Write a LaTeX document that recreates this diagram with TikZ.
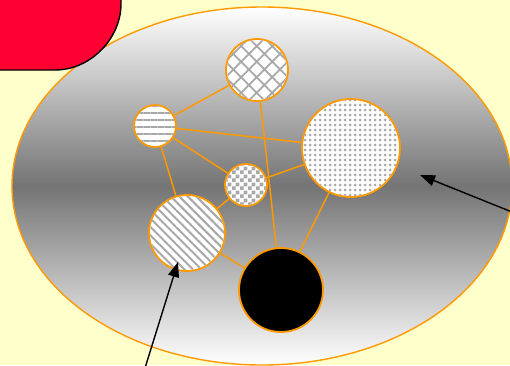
\documentclass[tikz,border=0pt]{standalone}
\usetikzlibrary{shapes.geometric,patterns,patterns.meta,arrows.meta}
\definecolor{bgyellow}{HTML}{FFFFCC}
\definecolor{redbox}{HTML}{FF0033}
\definecolor{orangeline}{HTML}{FF9900}
\definecolor{midgray}{HTML}{747474}
\definecolor{patgray}{HTML}{A8A8A8}
\pgfdeclarepattern{
  name=sparsechecker,
  type=uncolored,
  bottom left={\pgfpoint{0pt}{0pt}},
  top right={\pgfpoint{8pt}{8pt}},
  tile size={\pgfpoint{8pt}{8pt}},
  code={
    \pgfpathrectangle{\pgfpoint{0pt}{0pt}}{\pgfpoint{4pt}{4pt}}
    \pgfpathrectangle{\pgfpoint{4pt}{4pt}}{\pgfpoint{4pt}{4pt}}
    \pgfusepath{fill}
  }
}
\tikzset{
  ball/.style={circle, draw=orangeline, line width=1.8pt, fill=white, inner sep=0pt},
  link/.style={draw=orangeline, line width=1.5pt},
  pointer/.style={draw=black, line width=1.4pt, -{Triangle[length=15pt,width=11pt]}},
}
\begin{document}
\begin{tikzpicture}[x=1pt,y=-1pt]
\useasboundingbox (0,0) rectangle (510,365);
\fill[bgyellow] (0,0) rectangle (510,365);
% shaded ellipse
\node[ellipse, draw=orangeline, line width=1.4pt, minimum width=500pt, minimum height=358pt, inner sep=0pt,
  top color=white, bottom color=white, middle color=midgray] (cloud) at (262,186) {};
% red rounded box
\draw[fill=redbox, draw=black, line width=1.4pt]
  (-40,70) -- (55,70) .. controls (91,70) and (121,38) .. (121,4) -- (121,-40) -- (-40,-40) -- cycle;
\coordinate (c1) at (257,70);
\coordinate (c2) at (155,126);
\coordinate (c3) at (351,148);
\coordinate (c4) at (246,185);
\coordinate (c5) at (187,233);
\coordinate (c6) at (281,290);
% balls
\node[ball, minimum size=62pt] (b1) at (c1) {};
\fill[pattern={Hatch[angle=45,distance=11pt,line width=1.8pt]}, pattern color=patgray] (c1) circle (30pt);
\node[ball, minimum size=42pt] (b2) at (c2) {};
\fill[pattern={Lines[angle=0,distance=7pt,line width=2pt]}, pattern color=patgray] (c2) circle (20pt);
\node[ball, minimum size=98pt] (b3) at (c3) {};
\fill[pattern={Dots[distance=5pt,radius=1.5pt]}, pattern color=patgray] (c3) circle (48pt);
\node[ball, minimum size=42pt] (b4) at (c4) {};
\fill[pattern=sparsechecker, pattern color=patgray] (c4) circle (20pt);
\node[ball, minimum size=76pt] (b5) at (c5) {};
\fill[pattern={Lines[angle=-45,distance=6pt,line width=2pt]}, pattern color=patgray] (c5) circle (37pt);
\node[ball, minimum size=84pt, fill=black] (b6) at (c6) {};
% links
\draw[link] (b2) -- (b1);
\draw[link] (b2) -- (b3);
\draw[link] (b2) -- (b4);
\draw[link] (b2) -- (b5);
\draw[link] (b1) -- (b6);
\draw[link] (b4) -- (b3);
\draw[link] (b4) -- (b5);
\draw[link] (b5) -- (b6);
\draw[link] (b3) -- (b6);
% pointers
\coordinate (p1s) at (145,368);
\coordinate (p1e) at (178,262);
\coordinate (p2s) at (512,212);
\coordinate (p2e) at (420,175);
\draw[pointer] (p1s) -- (p1e);
\draw[pointer] (p2s) -- (p2e);
\end{tikzpicture}
\end{document}
